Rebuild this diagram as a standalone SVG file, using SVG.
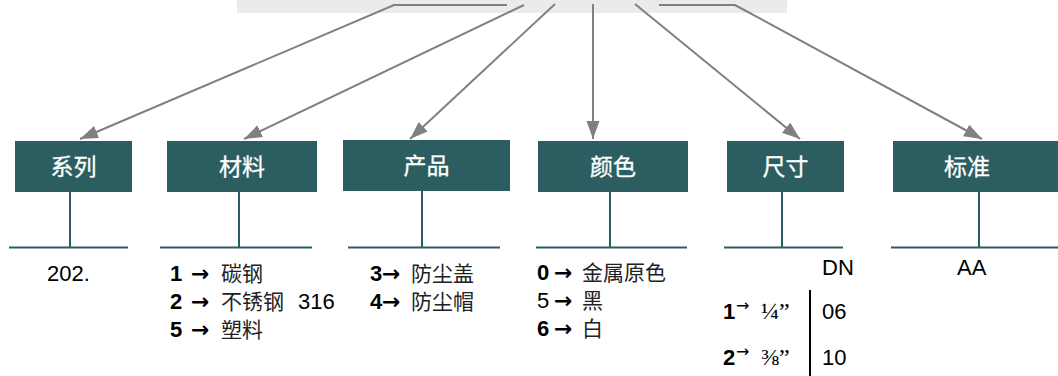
<svg xmlns="http://www.w3.org/2000/svg" width="1058" height="376" viewBox="0 0 1058 376">
<style>
.box{fill:#2c5e61}
.hd{font-family:"Noto Sans CJK SC","Liberation Sans",sans-serif;font-size:23px;fill:#ffffff;stroke:#ffffff;stroke-width:0.3;text-anchor:middle}
.stem{stroke:#2c5e61;stroke-width:2;fill:none}
.con{stroke:#808080;stroke-width:2;fill:none}
.t{font-family:"Liberation Sans","Noto Sans CJK SC",sans-serif;font-size:22px;fill:#000}
.b{font-weight:bold}
.cjk{font-family:"Noto Sans CJK SC",sans-serif;font-size:21px;fill:#222}
.ar{font-family:"DejaVu Sans",sans-serif;font-size:22px;font-weight:bold}
.tm{font-family:"Liberation Serif",serif;font-size:24px}
</style>
<defs>
<marker id="ah" markerUnits="userSpaceOnUse" markerWidth="20" markerHeight="14" refX="18" refY="6.5" orient="auto">
<path d="M0,0 L18,6.5 L0,13 z" fill="#808080"/>
</marker>
</defs>
<rect x="237" y="0" width="550" height="13" fill="#ebebeb"/>
<g id="connectors">
<polyline class="con" points="507,5 394,5 80,139" marker-end="url(#ah)"/>
<line class="con" x1="524" y1="5" x2="244" y2="139" marker-end="url(#ah)"/>
<line class="con" x1="555" y1="4" x2="410" y2="139" marker-end="url(#ah)"/>
<line class="con" x1="593" y1="4" x2="593" y2="139" marker-end="url(#ah)"/>
<line class="con" x1="635" y1="4" x2="800" y2="139" marker-end="url(#ah)"/>
<polyline class="con" points="659,5 735,5 982,139" marker-end="url(#ah)"/>
</g>
<g id="series">
<rect class="box" x="15" y="141" width="117" height="51"/>
<text class="hd" x="73.5" y="175">系列</text>
<path class="stem" d="M70,192 V247.5 M9,247.5 H128"/>
<text class="t" x="47" y="281">202.</text>
</g>
<g id="material">
<rect class="box" x="167" y="141" width="150" height="51"/>
<text class="hd" x="242" y="175">材料</text>
<path class="stem" d="M239,192 V247.5 M160,247.5 H312"/>
<text class="t b" x="170" y="281">1</text><text class="ar" x="191" y="281">→</text><text class="cjk" x="221" y="281">碳钢</text>
<text class="t b" x="170" y="309">2</text><text class="ar" x="191" y="309">→</text><text class="cjk" x="221" y="309">不锈钢</text><text class="t" x="298" y="309">316</text>
<text class="t b" x="170" y="337">5</text><text class="ar" x="191" y="337">→</text><text class="cjk" x="221" y="337">塑料</text>
</g>
<g id="product">
<rect class="box" x="343" y="140" width="167" height="51"/>
<text class="hd" x="426.5" y="174">产品</text>
<path class="stem" d="M422,191 V247.5 M348,247.5 H500"/>
<text class="t b" x="370" y="281">3</text><text class="ar" x="382" y="281">→</text><text class="cjk" x="411" y="281">防尘盖</text>
<text class="t b" x="370" y="309">4</text><text class="ar" x="382" y="309">→</text><text class="cjk" x="411" y="309">防尘帽</text>
</g>
<g id="colour">
<rect class="box" x="538" y="141" width="150" height="51"/>
<text class="hd" x="613" y="175">颜色</text>
<path class="stem" d="M610,192 V247.5 M536,247.5 H687"/>
<text class="t b" x="537" y="280">0</text><text class="ar" x="554" y="280">→</text><text class="cjk" x="582" y="280">金属原色</text>
<text class="t" x="537" y="308">5</text><text class="ar" x="554" y="308">→</text><text class="cjk" x="582" y="308">黑</text>
<text class="t b" x="537" y="336">6</text><text class="ar" x="554" y="336">→</text><text class="cjk" x="582" y="336">白</text>
</g>
<g id="size">
<rect class="box" x="727" y="141" width="117" height="51"/>
<text class="hd" x="785.5" y="175">尺寸</text>
<path class="stem" d="M782,192 V247.5 M724,247.5 H843"/>
<text class="t" x="822" y="275">DN</text>
<line x1="810" y1="290" x2="810" y2="376" stroke="#000" stroke-width="2"/>
<text class="t b" x="723" y="319">1</text><text class="ar" x="736" y="311" style="font-size:16px;font-weight:normal">→</text><text class="tm" x="761" y="319">¼”</text><text class="t" x="822" y="319">06</text>
<text class="t b" x="723" y="365">2</text><text class="ar" x="736" y="357" style="font-size:16px;font-weight:normal">→</text><text class="tm" x="761" y="365">⅜”</text><text class="t" x="822" y="365">10</text>
</g>
<g id="standard">
<rect class="box" x="893" y="141" width="165" height="51"/>
<text class="hd" x="967" y="175">标准</text>
<path class="stem" d="M979,192 V247.5 M891,247.5 H1058"/>
<text class="t" x="957" y="275">AA</text>
</g>
</svg>
